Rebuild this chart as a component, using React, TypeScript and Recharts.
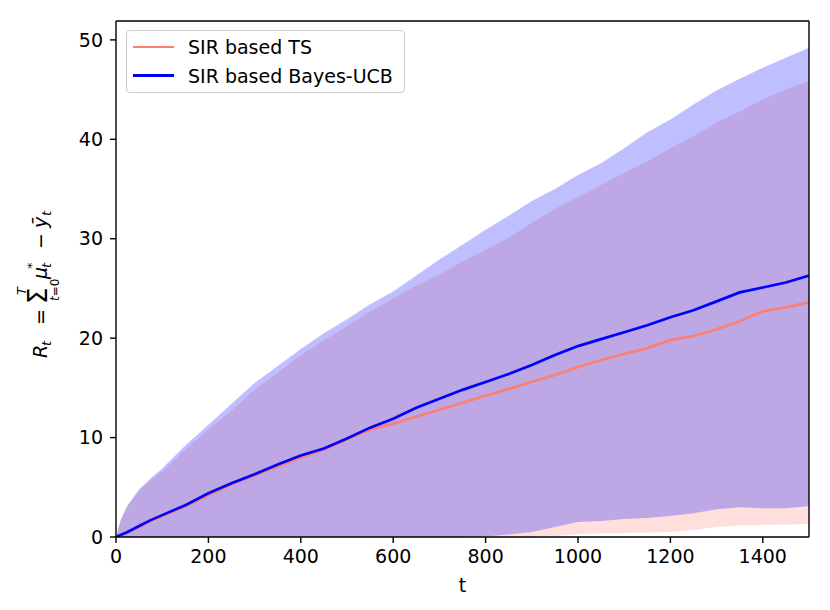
import {
  ComposedChart,
  Area,
  Line,
  XAxis,
  YAxis,
  ReferenceLine,
} from 'recharts';

// time steps (t)
const T = [0, 10, 25, 50, 75, 100, 150, 200, 250, 300, 350, 400, 450, 500, 550, 600, 650, 700, 750, 800, 850, 900, 950, 1000, 1050, 1100, 1150, 1200, 1250, 1300, 1350, 1400, 1450, 1500];

// SIR based TS: mean regret and band
const TS_MEAN = [0, 0.2, 0.5, 1.0, 1.6, 2.1, 3.1, 4.2, 5.3, 6.2, 7.1, 8.0, 8.8, 9.8, 10.8, 11.4, 12.1, 12.8, 13.5, 14.2, 14.9, 15.6, 16.3, 17.1, 17.8, 18.4, 19.0, 19.8, 20.2, 20.9, 21.7, 22.7, 23.1, 23.6];
const TS_HI = [0, 1.6, 3.1, 4.6, 5.7, 6.6, 8.8, 10.8, 12.7, 14.8, 16.5, 18.3, 19.8, 21.2, 22.7, 24.0, 25.3, 26.4, 27.7, 28.9, 30.1, 31.6, 33.0, 34.2, 35.4, 36.6, 37.8, 39.1, 40.3, 41.7, 42.8, 44.0, 45.0, 45.9];
const TS_LO = [0, 0, 0, 0, 0, 0, 0, 0, 0, 0, 0, 0, 0, 0, 0, 0, 0, 0, 0, 0, 0, 0, 0.1, 0.3, 0.35, 0.4, 0.45, 0.5, 0.7, 1.0, 1.15, 1.2, 1.25, 1.3];

// SIR based Bayes-UCB: mean regret and band
const UCB_MEAN = [0, 0.2, 0.5, 1.1, 1.7, 2.2, 3.2, 4.4, 5.4, 6.3, 7.3, 8.2, 8.9, 9.9, 11.0, 11.9, 13.0, 13.9, 14.8, 15.6, 16.4, 17.3, 18.3, 19.2, 19.9, 20.6, 21.3, 22.1, 22.8, 23.7, 24.6, 25.1, 25.6, 26.3];
const UCB_HI = [0, 1.7, 3.2, 4.8, 5.9, 6.9, 9.2, 11.3, 13.4, 15.5, 17.2, 18.9, 20.5, 21.9, 23.4, 24.7, 26.3, 27.9, 29.4, 30.9, 32.3, 33.8, 35.0, 36.4, 37.6, 39.1, 40.7, 42.0, 43.5, 44.9, 46.1, 47.2, 48.2, 49.2];
const UCB_LO = [0, 0, 0, 0, 0, 0, 0, 0, 0, 0, 0, 0, 0, 0, 0, 0, 0, 0, 0, 0.05, 0.25, 0.5, 1.0, 1.5, 1.6, 1.8, 1.9, 2.1, 2.4, 2.8, 3.0, 2.9, 2.9, 3.1];

const X_TICKS = [0, 200, 400, 600, 800, 1000, 1200, 1400];
const Y_TICKS = [0, 10, 20, 30, 40, 50];
const X_MAX = 1500;
const Y_MAX = 51.9;

const TS_COLOR = '#fa8072';
const UCB_COLOR = '#0000ff';
const FONT = '"DejaVu Sans", sans-serif';

const chartData = T.map((t, i) => ({
  t,
  tsMean: TS_MEAN[i],
  ucbMean: UCB_MEAN[i],
  tsBand: [TS_LO[i], TS_HI[i]],
  ucbBand: [UCB_LO[i], UCB_HI[i]],
}));

const axisLine = { stroke: '#000', strokeWidth: 1.4 };
const tickStyle = { fontSize: 19, fill: '#000', fontFamily: FONT };

// R_t = sum_{t=0}^{T} mu_t^* - ybar_t, rotated along the y axis
function YLabel() {
  const it = { fontStyle: 'italic' as const };
  return (
    <g transform="translate(47, 280) rotate(-90)" fontFamily={FONT} fill="#000">
      <text x={-78} y={0} style={{ fontSize: 19 }} {...it}>R</text>
      <text x={-66} y={4} style={{ fontSize: 13 }} {...it}>t</text>
      <text x={-45} y={0} style={{ fontSize: 19 }}>=</text>
      <text x={-24} y={0} style={{ fontSize: 26 }}>Σ</text>
      <text x={-15} y={-21} style={{ fontSize: 13 }} {...it}>T</text>
      <text x={-21} y={12} style={{ fontSize: 12 }}><tspan fontStyle="italic">t</tspan>=0</text>
      <text x={1} y={0} style={{ fontSize: 19 }} {...it}>μ</text>
      <text x={11} y={-11} style={{ fontSize: 13 }}>*</text>
      <text x={12} y={4} style={{ fontSize: 13 }} {...it}>t</text>
      <text x={31} y={0} style={{ fontSize: 19 }}>−</text>
      <text x={52} y={0} style={{ fontSize: 19 }} {...it}>ȳ</text>
      <text x={64} y={4} style={{ fontSize: 13 }} {...it}>t</text>
    </g>
  );
}

function LegendBox() {
  const items = [
    { label: 'SIR based TS', color: TS_COLOR },
    { label: 'SIR based Bayes-UCB', color: UCB_COLOR },
  ];
  return (
    <div
      style={{
        position: 'absolute',
        left: 126,
        top: 30,
        width: 277,
        height: 61,
        border: '1px solid #cccccc',
        borderRadius: 4,
        background: 'rgba(255,255,255,0.8)',
        fontFamily: FONT,
        fontSize: 19,
      }}
    >
      {items.map((item, i) => (
        <div key={item.label} style={{ position: 'absolute', left: 6, top: 4 + i * 28.5, height: 24, display: 'flex', alignItems: 'center' }}>
          <div style={{ width: 41, height: 2.7, background: item.color }} />
          <span style={{ marginLeft: 14, whiteSpace: 'nowrap', color: '#000' }}>{item.label}</span>
        </div>
      ))}
    </div>
  );
}

export default function App() {
  return (
    <div style={{ position: 'absolute', left: 0, top: 0, width: 830, height: 610, background: '#fff' }}>
      <ComposedChart width={830} height={610} data={chartData} margin={{ top: 21, right: 21, bottom: 0, left: 0 }}>
        <XAxis
          dataKey="t"
          type="number"
          domain={[0, X_MAX]}
          ticks={X_TICKS}
          height={73}
          tick={tickStyle}
          tickSize={6}
          tickMargin={7}
          axisLine={axisLine}
          tickLine={axisLine}
          allowDataOverflow
          label={{ value: 't', position: 'insideBottom', offset: 18, fontSize: 19, fill: '#000', fontFamily: FONT }}
        />
        <YAxis
          type="number"
          domain={[0, Y_MAX]}
          ticks={Y_TICKS}
          width={116}
          tick={tickStyle}
          tickSize={6}
          tickMargin={7}
          axisLine={axisLine}
          tickLine={axisLine}
          allowDataOverflow
          label={{ content: () => <YLabel /> }}
        />
        <Area dataKey="tsBand" type="linear" stroke="none" fill={TS_COLOR} fillOpacity={0.25} isAnimationActive={false} activeDot={false} />
        <Area dataKey="ucbBand" type="linear" stroke="none" fill={UCB_COLOR} fillOpacity={0.25} isAnimationActive={false} activeDot={false} />
        <Line dataKey="tsMean" type="linear" stroke={TS_COLOR} strokeWidth={2.7} dot={false} activeDot={false} isAnimationActive={false} />
        <Line dataKey="ucbMean" type="linear" stroke={UCB_COLOR} strokeWidth={2.7} dot={false} activeDot={false} isAnimationActive={false} />
        <ReferenceLine y={Y_MAX} stroke="#000" strokeWidth={1.4} ifOverflow="visible" />
        <ReferenceLine x={X_MAX} stroke="#000" strokeWidth={1.4} ifOverflow="visible" />
      </ComposedChart>
      <LegendBox />
    </div>
  );
}
